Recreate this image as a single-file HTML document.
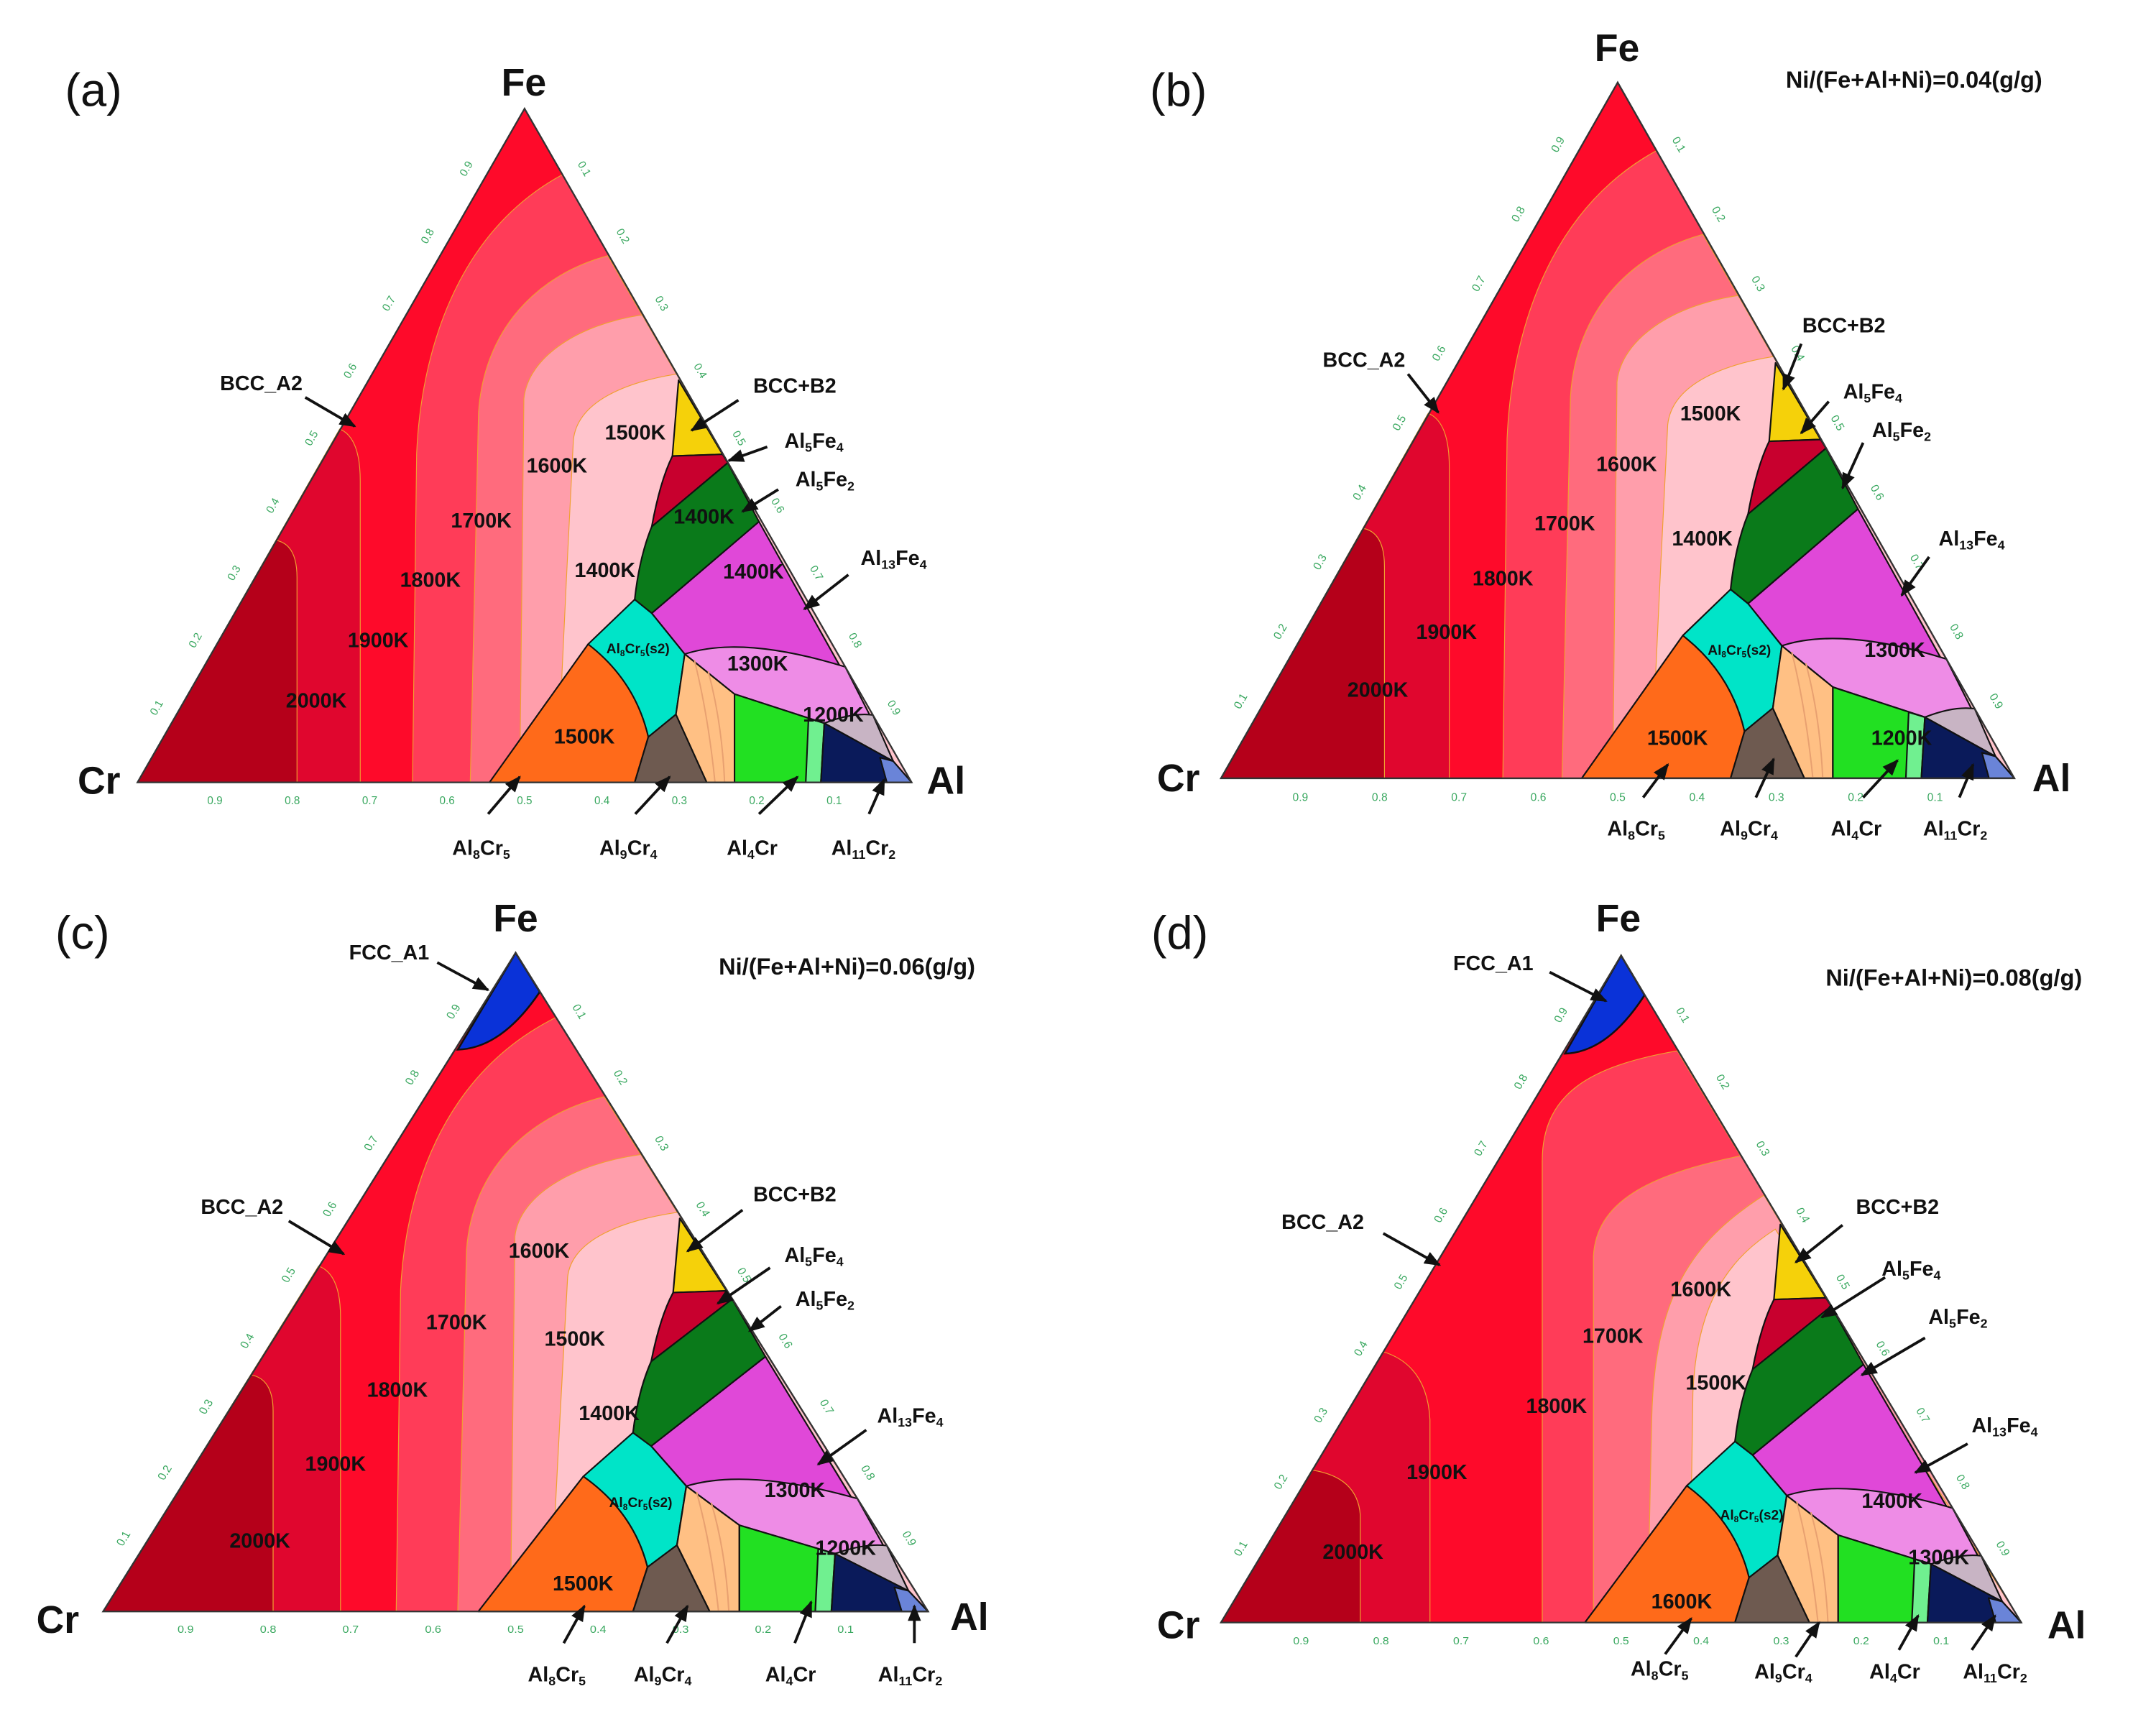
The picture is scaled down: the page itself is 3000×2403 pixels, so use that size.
<!DOCTYPE html>
<html><head><meta charset="utf-8"><style>
html,body{margin:0;padding:0;background:#fff;}
svg{display:block;}
text{font-family:"Liberation Sans",Arial,sans-serif;}
</style></head><body>
<svg id="fig" width="3000" height="2403" viewBox="0 0 1568 1256" preserveAspectRatio="none" xmlns="http://www.w3.org/2000/svg">
<defs><marker id="ah" viewBox="0 0 10 10" refX="9" refY="5" markerWidth="6" markerHeight="6" orient="auto"><path d="M0,1 L10,5 L0,9 Z" fill="#111"/></marker></defs>
<rect width="1568" height="1256" fill="#fff"/>
</svg>
<script>
const NS="http://www.w3.org/2000/svg";
const svg=document.getElementById('fig');
const panelIds=['a','b','c','d'];
const panelCrX=[100,888,75,888];
const panelCrY=[569,566,1172,1180];
const panelW=[563,577,600,582];
const panelH=[490,506,479,485];
const tickValues=[0.1,0.2,0.3,0.4,0.5,0.6,0.7,0.8,0.9];
const bandsStd=[
 ['band-1900k','#e0062e','M100,569 L262,569 L262,350 Q262,318 247,312 Z'],
 ['band-2000k','#b5001a','M100,569 L216,569 L216,420 Q216,396 201,393 Z'],
 ['band-1700k','#ff3c58','M300,569 L303,330 C306,260 330,170 409,127 L663,569 Z'],
 ['band-1600k','#ff6b7d','M342,569 L348,300 C352,240 390,200 442,186 L663,569 Z'],
 ['band-1500k','#ff9eab','M378,569 L381,290 C384,260 420,236 467,229 L663,569 Z'],
 ['band-1400k','#ffc4cc','M405,569 L412,420 L417,320 C420,292 455,278 492,272 L663,569 Z']
];
const bandsD=[
 ['band-1900k','#e0062e','M100,569 L247,569 L247,420 Q245,380 214,370 Z'],
 ['band-2000k','#b5001a','M100,569 L198,569 L198,490 Q196,462 164,457 Z'],
 ['band-1700k','#ff3c58','M326,569 L326,230 C326,180 360,160 421,149 L663,569 Z'],
 ['band-1600k','#ff6b7d','M362,569 L362,300 C364,260 400,240 466,226 L663,569 Z'],
 ['band-1500k','#ff9eab','M400,569 L403,420 C405,330 430,290 482,255 L663,569 Z'],
 ['band-1400k','#ffc4cc','M430,540 L432,400 C435,330 460,300 490,280 L663,569 Z']
];
const phases=[
 ['bcc-b2-region','#f5d10a','M493.5,276.5 L489,331.7 L525.5,330.4 Z'],
 ['al5fe4-region','#c8002e','M489,331.7 L525.5,330.4 L529.3,336.6 L474,383 Q480,350 489,331.7 Z'],
 ['al5fe2-region','#0a7a1a','M474,383 L529.3,336.6 L552,379.4 L474,446 L461.6,436 Q465,405 474,383 Z'],
 ['al13fe4-region','#e048d8','M474,446 L552,379.4 L649.6,553.6 L599.5,526 L534.2,504.8 L498,475.7 Z'],
 ['al13fe4-low-region','#ee8ce6','M498,475.7 Q540,462 614.7,485 L649.6,553.6 L599.5,526 L534.2,504.8 Z'],
 ['grey-1200k-region','#c8b4c4','M599.5,526 Q620,518 634.8,520 L649.6,553.6 Z'],
 ['al8cr5-s2-region','#00e4c8','M461.6,436 L474,446 L498,475.7 L491.6,519.6 L471.5,536 Q455,495 427.7,468.5 Z'],
 ['al8cr5-region','#ff6a1a','M356,569 L427.7,468.5 Q462,495 471.5,536 L461.6,569 Z'],
 ['al9cr4-region','#6e5a50','M461.6,569 L471.5,536 L491.6,519.6 L514,569 Z'],
 ['peach-region','#ffc084','M498,475.7 L534.2,504.8 L534.2,569 L514,569 L491.6,519.6 Z'],
 ['al4cr-region','#22e022','M534.2,504.8 L599.5,526 L597,569 L534.2,569 Z'],
 ['al4cr-edge-region','#70f090','M588,522.5 L599.5,526 L597,569 L586,569 Z'],
 ['al11cr2-region','#0a1a5a','M599.5,526 L649.6,553.6 L663,569 L597,569 Z'],
 ['al-corner-region','#6a84d8','M640,551 L649.6,553.6 L663,569 L645,569 Z']
];
const fccPath='M381.5,79 L398,108 Q372,150 342,151 Z';
const tempLabels=[
 [[230,510,'2000K'],[275,466,'1900K'],[313,422,'1800K'],[350,379,'1700K'],[405,339,'1600K'],[462,315,'1500K'],[440,415,'1400K'],[512,376,'1400K'],[548,416,'1400K'],[551,483,'1300K'],[606,520,'1200K'],[425,536,'1500K']],
 [[1002,502,'2000K'],[1052,460,'1900K'],[1093,421,'1800K'],[1138,381,'1700K'],[1183,338,'1600K'],[1244,301,'1500K'],[1238,392,'1400K'],[1378,473,'1300K'],[1383,537,'1200K'],[1220,537,'1500K']],
 [[189,1121,'2000K'],[244,1065,'1900K'],[289,1011,'1800K'],[332,962,'1700K'],[392,910,'1600K'],[418,974,'1500K'],[443,1028,'1400K'],[578,1084,'1300K'],[615,1126,'1200K'],[424,1152,'1500K']],
 [[984,1129,'2000K'],[1045,1071,'1900K'],[1132,1023,'1800K'],[1173,972,'1700K'],[1237,938,'1600K'],[1248,1006,'1500K'],[1376,1092,'1400K'],[1410,1133,'1300K'],[1223,1165,'1600K']]
];
const s2Labels=[[464,472],[1265,473],[466,1093],[1274,1102]];
const phaseLabels=[
 [['BCC_A2',190,279,222,289,258,310],['BCC+B2',578,281,537,291,503,313],['Al_5Fe_4',592,321,558,325,530,335],['Al_5Fe_2',600,349,566,356,540,372],['Al_{13}Fe_4',650,406,617,418,585,443],
  ['Al_8Cr_5',350,617,355,592,378,565],['Al_9Cr_4',457,617,462,592,487,565],['Al_4Cr',547,617,552,592,580,565],['Al_{11}Cr_2',628,617,632,592,643,567]],
 [['BCC_A2',992,262,1024,272,1046,300],['BCC+B2',1341,237,1310,250,1297,283],['Al_5Fe_4',1362,285,1330,292,1310,315],['Al_5Fe_2',1383,313,1355,322,1340,355],['Al_{13}Fe_4',1434,392,1403,405,1383,433],
  ['Al_8Cr_5',1190,603,1195,580,1213,556],['Al_9Cr_4',1272,603,1277,580,1290,552],['Al_4Cr',1350,603,1355,580,1380,553],['Al_{11}Cr_2',1422,603,1425,580,1435,556]],
 [['FCC_A1',283,693,318,700,355,720],['BCC_A2',176,878,210,888,250,912],['BCC+B2',578,869,540,880,500,910],['Al_5Fe_4',592,913,560,922,522,948],['Al_5Fe_2',600,945,568,950,545,968],['Al_{13}Fe_4',662,1030,630,1040,595,1065],
  ['Al_8Cr_5',405,1218,410,1195,425,1168],['Al_9Cr_4',482,1218,485,1195,500,1168],['Al_4Cr',575,1218,578,1195,590,1165],['Al_{11}Cr_2',662,1218,665,1195,665,1168]],
 [['FCC_A1',1086,701,1127,707,1168,728],['BCC_A2',962,889,1006,897,1047,920],['BCC+B2',1380,878,1340,891,1306,918],['Al_5Fe_4',1390,923,1371,929,1325,958],['Al_5Fe_2',1424,958,1400,973,1354,1000],['Al_{13}Fe_4',1458,1037,1431,1050,1393,1071],
  ['Al_8Cr_5',1207,1214,1211,1203,1230,1177],['Al_9Cr_4',1297,1216,1306,1205,1323,1180],['Al_4Cr',1378,1216,1381,1200,1395,1175],['Al_{11}Cr_2',1451,1216,1434,1200,1451,1175]]
];
const panelTags=[[68,65,'(a)'],[857,65,'(b)'],[60,678,'(c)'],[858,678,'(d)']];
const feLab=[[381,60],[1176,35],[375,668],[1177,668]];
const crLab=[[72,568],[857,566],[42,1178],[857,1182]];
const alLab=[[688,568],[1492,566],[705,1176],[1503,1182]];
const niText=[null,[1392,58,'Ni/(Fe+Al+Ni)=0.04(g/g)'],[616,703,'Ni/(Fe+Al+Ni)=0.06(g/g)'],[1421,711,'Ni/(Fe+Al+Ni)=0.08(g/g)']];

function mk(tag,attrs,parent){const e=document.createElementNS(NS,tag);for(const k in attrs)e.setAttribute(k,attrs[k]);(parent||svg).appendChild(e);return e;}
function richText(parent,x,y,str,size,weight,anchor){
 const t=mk('text',{x:x,y:y,'font-size':size,'font-weight':weight||'bold','text-anchor':anchor||'middle','dominant-baseline':'central',fill:'#111'},parent);
 const re=/_\{(\d+)\}|_(\d)/g;let last=0,m;
 while((m=re.exec(str))){
  if(m.index>last){const s=mk('tspan',{},t);s.textContent=str.slice(last,m.index);}
  const sub=mk('tspan',{'font-size':size*0.62,dy:size*0.3},t);sub.textContent=m[1]||m[2];
  const back=mk('tspan',{'font-size':1,dy:-size*0.3},t);back.textContent='\u200a';
  last=re.lastIndex;
 }
 if(last<str.length){const s=mk('tspan',{},t);s.textContent=str.slice(last);}
 return t;
}
panelIds.forEach((id,i)=>{
 const pg=mk('g',{});
 
 
 const g=mk('g',{transform:`translate(${panelCrX[i]},${panelCrY[i]}) scale(${panelW[i]/563},${panelH[i]/490}) translate(-100,-569)`},pg);
 
 
 const tri=mk('path',{d:'M100,569 L381.5,79 L663,569 Z',fill:'#fe0a2a'},g);
 
 
 const bands=(id==='d')?bandsD:bandsStd;
 bands.forEach(b=>{const p=mk('path',{d:b[2],fill:b[1],stroke:'#f0a030','stroke-width':0.6},g);
  
  });
 phases.forEach(b=>{const p=mk('path',{d:b[2],fill:b[1],stroke:'#111','stroke-width':1.1,'stroke-linejoin':'round'},g);
  
  });
 mk('path',{d:'M505,480 Q515,520 520,569 M515,488 Q525,525 527,569',fill:'none',stroke:'#e8a070','stroke-width':1},g);
 if(id==='c'||id==='d'){const f=mk('path',{d:fccPath,fill:'#0a32d8',stroke:'#111','stroke-width':1.3},g);
  
  }
 const out=mk('path',{d:'M100,569 L381.5,79 L663,569 Z',fill:'none',stroke:'#333','stroke-width':1.2},g);
 
 
 tickValues.forEach(v=>{
  const tb=mk('text',{x:100+(1-v)*563,y:585,'font-size':8,fill:'#3aa860','text-anchor':'middle'},g);
  
  
  tb.textContent=v.toFixed(1);
  const lx=100+v*281.5-12, ly=569-v*490-4;
  const tl=mk('text',{x:lx,y:ly,'font-size':8,fill:'#3aa860','text-anchor':'middle',transform:`rotate(-60 ${lx} ${ly})`},g);
  
  
  tl.textContent=v.toFixed(1);
  const rx=381.5+v*281.5+13, ry=79+v*490-4;
  const tr=mk('text',{x:rx,y:ry,'font-size':8,fill:'#3aa860','text-anchor':'middle',transform:`rotate(60 ${rx} ${ry})`},g);
  
  
  tr.textContent=v.toFixed(1);
 });
 const tag=richText(pg,panelTags[i][0],panelTags[i][1],panelTags[i][2],34,'normal');
 
 
 const fe=richText(pg,feLab[i][0],feLab[i][1],'Fe',28);
 
 
 const cr=richText(pg,crLab[i][0],crLab[i][1],'Cr',28);
 
 
 const al=richText(pg,alLab[i][0],alLab[i][1],'Al',28);
 
 
 if(niText[i]){const n=richText(pg,niText[i][0],niText[i][1],niText[i][2],17);
  
  }
 tempLabels[i].forEach(t=>{const e=richText(pg,t[0],t[1],t[2],15);
  
  });
 const s2=richText(pg,s2Labels[i][0],s2Labels[i][1],'Al_8Cr_5(s2)',10);
 
 
 phaseLabels[i].forEach(p=>{
  const e=richText(pg,p[1],p[2],p[0],15);
  
  
  const a=mk('line',{x1:p[3],y1:p[4],x2:p[5],y2:p[6],stroke:'#111','stroke-width':2,'marker-end':'url(#ah)'},pg);
  
  
 });
});
</script>
</body></html>
